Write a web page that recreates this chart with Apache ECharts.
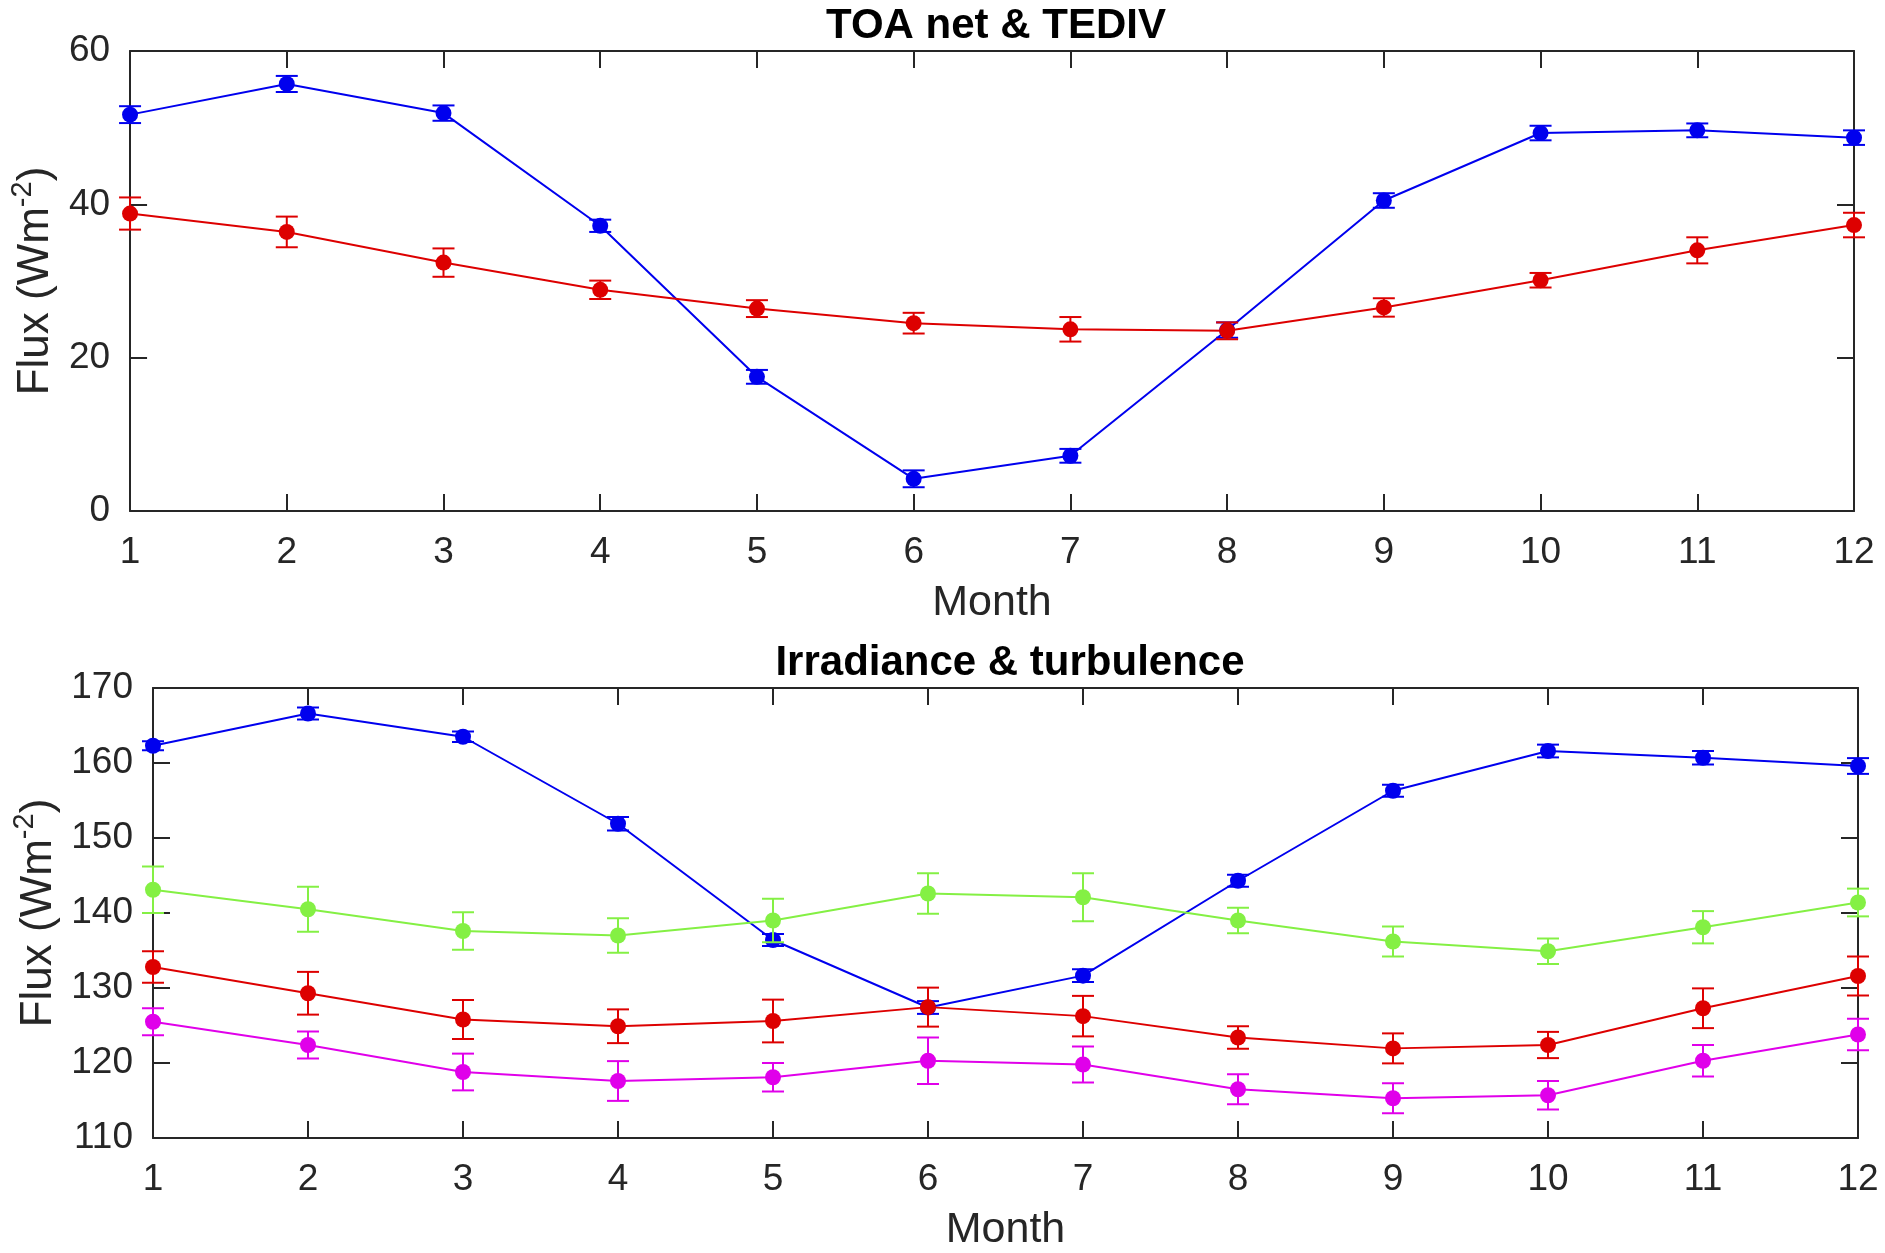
<!DOCTYPE html>
<html>
<head>
<meta charset="utf-8">
<script src="https://cdn.jsdelivr.net/npm/echarts@6/dist/echarts.min.js"></script>
<style>
html,body{margin:0;padding:0;background:#fff;}
#chart{width:1885px;height:1253px;}
</style>
</head>
<body>
<div id="chart"></div>
<script>
// ---- data ----
const months = [1,2,3,4,5,6,7,8,9,10,11,12];
const monthTicks = ['1','2','3','4','5','6','7','8','9','10','11','12'];

// Top panel: TOA net & TEDIV
const toaNet    = [51.7, 55.7, 51.9, 37.2, 17.5, 4.2, 7.2, 23.6, 40.5, 49.3, 49.65, 48.7];
const toaNetErr = [1.1, 1.05, 1.0, 0.8, 0.9, 1.1, 0.9, 1.0, 0.95, 0.95, 0.9, 0.95];
const tediv     = [38.8, 36.4, 32.4, 28.85, 26.4, 24.5, 23.7, 23.5, 26.55, 30.1, 34.0, 37.3];
const tedivErr  = [2.1, 2.0, 1.85, 1.2, 1.1, 1.35, 1.6, 1.1, 1.2, 0.95, 1.7, 1.6];

// Bottom panel: Irradiance & turbulence
const irrBlue     = [162.3, 166.6, 163.5, 151.9, 136.4, 127.4, 131.65, 144.3, 156.3, 161.6, 160.7, 159.6];
const irrBlueErr  = [0.6, 0.8, 0.7, 0.9, 0.8, 0.85, 0.85, 0.8, 0.8, 0.85, 0.9, 1.05];
const irrGreen    = [143.1, 140.5, 137.6, 137.0, 139.0, 142.6, 142.1, 139.0, 136.2, 134.9, 138.1, 141.4];
const irrGreenErr = [3.1, 3.0, 2.5, 2.3, 2.9, 2.7, 3.2, 1.7, 2.0, 1.7, 2.15, 1.85];
const irrRed      = [132.8, 129.3, 125.8, 124.9, 125.6, 127.45, 126.25, 123.4, 121.95, 122.4, 127.3, 131.6];
const irrRedErr   = [2.1, 2.85, 2.6, 2.25, 2.85, 2.6, 2.7, 1.5, 2.0, 1.75, 2.65, 2.6];
const irrMag      = [125.5, 122.4, 118.8, 117.6, 118.1, 120.3, 119.8, 116.5, 115.3, 115.7, 120.3, 123.8];
const irrMagErr   = [1.8, 1.8, 2.45, 2.65, 1.9, 3.1, 2.4, 2.0, 2.0, 1.9, 2.1, 2.1];

const topTicks = [0, 20, 40, 60];
const bottomTicks = [110, 120, 130, 140, 150, 160, 170];

// ---- styling ----
const FONT = 'Liberation Sans, Arial, Helvetica, sans-serif';
const AXC = '#262626';
const BLUE = '#0000ee', RED = '#dd0000', GREEN = '#84f044', MAG = '#e000ea';

const chart = echarts.init(document.getElementById('chart'), null, {renderer: 'canvas'});

function pts(vals) { return months.map((m, i) => [m, vals[i]]); }
function errs(vals, e) { return months.map((m, i) => [m, vals[i] - e[i], vals[i] + e[i]]); }

function errRender(color) {
  return function (params, api) {
    const x = api.value(0);
    const lo = api.coord([x, api.value(1)]);
    const hi = api.coord([x, api.value(2)]);
    const hw = 11;
    const st = {stroke: color, lineWidth: 2};
    return {
      type: 'group',
      children: [
        {type: 'line', shape: {x1: lo[0], y1: lo[1], x2: hi[0], y2: hi[1]}, style: st},
        {type: 'line', shape: {x1: lo[0] - hw, y1: lo[1], x2: lo[0] + hw, y2: lo[1]}, style: st},
        {type: 'line', shape: {x1: hi[0] - hw, y1: hi[1], x2: hi[0] + hw, y2: hi[1]}, style: st}
      ]
    };
  };
}

function xAx(gridIndex, pos, showLabel, showName) {
  return {
    type: 'value', gridIndex: gridIndex, position: pos,
    min: 1, max: 12, interval: 1,
    axisLine: {show: true, onZero: false, lineStyle: {color: AXC, width: 2}},
    axisTick: {show: true, inside: true, length: 17, lineStyle: {color: AXC, width: 2}},
    axisLabel: {show: showLabel, color: AXC, fontFamily: FONT, fontSize: 37, margin: 23,
      formatter: v => monthTicks[months.indexOf(v)] || ''},
    splitLine: {show: false},
    name: showName ? 'Month' : '',
    nameLocation: 'middle', nameGap: 71,
    nameTextStyle: {color: AXC, fontFamily: FONT, fontSize: 43}
  };
}

function yAx(gridIndex, pos, min, max, interval, ticks, showLabel, showName, gap) {
  return {
    type: 'value', gridIndex: gridIndex, position: pos,
    min: min, max: max, interval: interval,
    axisLine: {show: true, onZero: false, lineStyle: {color: AXC, width: 2}},
    axisTick: {show: true, inside: true, length: 17, lineStyle: {color: AXC, width: 2}},
    axisLabel: {show: showLabel, color: AXC, fontFamily: FONT, fontSize: 37, margin: 20,
      formatter: v => (ticks.indexOf(v) >= 0 ? String(v) : '')},
    splitLine: {show: false},
    name: showName ? '{n|Flux (Wm}{s|-2}{n|)}' : '',
    nameLocation: 'middle', nameGap: gap, nameRotate: 90,
    nameTextStyle: {
      color: AXC, fontFamily: FONT, fontSize: 44,
      rich: {
        n: {color: AXC, fontFamily: FONT, fontSize: 44, lineHeight: 50, verticalAlign: 'bottom'},
        s: {color: AXC, fontFamily: FONT, fontSize: 29, lineHeight: 29, verticalAlign: 'top'}
      }
    }
  };
}

function lineSeries(xi, yi, vals, color, z) {
  return {
    type: 'line', xAxisIndex: xi, yAxisIndex: yi, data: pts(vals),
    symbol: 'circle', symbolSize: 16, clip: false, z: z,
    lineStyle: {color: color, width: 2},
    itemStyle: {color: color},
    emphasis: {disabled: true}
  };
}
function errSeries(xi, yi, vals, e, color, z) {
  return {
    type: 'custom', xAxisIndex: xi, yAxisIndex: yi, data: errs(vals, e),
    renderItem: errRender(color), clip: false, z: z,
    encode: {x: 0, y: [1, 2]}
  };
}

const option = {
  animation: false,
  backgroundColor: '#ffffff',
  title: [
    {text: 'TOA net & TEDIV', left: 991, top: 0, textAlign: 'center',
     textStyle: {fontFamily: FONT, fontSize: 42, fontWeight: 'bold', color: '#000'}},
    {text: 'Irradiance & turbulence', left: 1005, top: 637, textAlign: 'center',
     textStyle: {fontFamily: FONT, fontSize: 42, fontWeight: 'bold', color: '#000'}}
  ],
  grid: [
    {left: 128, right: 31, top: 51, height: 460},
    {left: 153, right: 27, top: 688, height: 452}
  ],
  xAxis: [
    xAx(0, 'bottom', true, true),
    xAx(0, 'top', false, false),
    xAx(1, 'bottom', true, true),
    xAx(1, 'top', false, false)
  ],
  yAxis: [
    yAx(0, 'left', 0, 60, 20, topTicks, true, true, 68),
    yAx(0, 'right', 0, 60, 20, topTicks, false, false, 0),
    yAx(1, 'left', 110, 170, 10, bottomTicks, true, true, 90),
    yAx(1, 'right', 110, 170, 10, bottomTicks, false, false, 0)
  ],
  series: [
    lineSeries(0, 0, toaNet, BLUE, 2), errSeries(0, 0, toaNet, toaNetErr, BLUE, 2),
    lineSeries(0, 0, tediv, RED, 3), errSeries(0, 0, tediv, tedivErr, RED, 3),
    lineSeries(2, 2, irrBlue, BLUE, 2), errSeries(2, 2, irrBlue, irrBlueErr, BLUE, 2),
    lineSeries(2, 2, irrGreen, GREEN, 3), errSeries(2, 2, irrGreen, irrGreenErr, GREEN, 3),
    lineSeries(2, 2, irrRed, RED, 4), errSeries(2, 2, irrRed, irrRedErr, RED, 4),
    lineSeries(2, 2, irrMag, MAG, 5), errSeries(2, 2, irrMag, irrMagErr, MAG, 5)
  ]
};
chart.setOption(option);
</script>
</body>
</html>
